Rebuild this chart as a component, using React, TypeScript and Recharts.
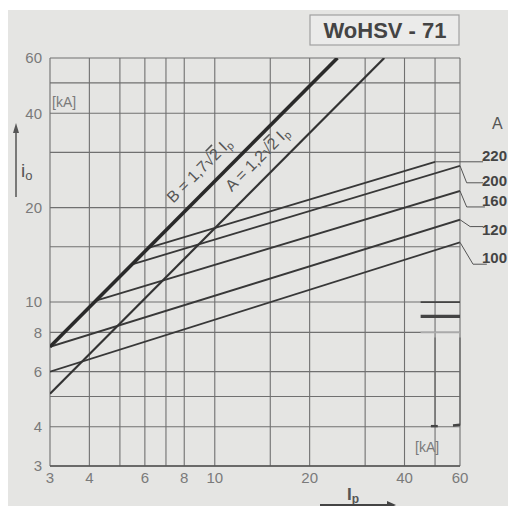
import { LineChart, Line, XAxis, YAxis, CartesianGrid, ReferenceLine } from 'recharts'

// log-log sheet, both axes 3..60 kA
const xTicks = [3, 4, 6, 8, 10, 20, 40, 60]
const yTicks = [3, 4, 6, 8, 10, 20, 40, 60]
const xGrid = [3, 4, 5, 6, 7, 8, 9, 10, 15, 20, 30, 40, 50, 60]
const yGrid = [3, 4, 5, 6, 7, 8, 9, 10, 15, 20, 30, 40, 50, 60]

// peak current lines (straight on log-log), end points
const lineA = [{ ip: 3, io: 5.1 }, { ip: 34.5, io: 60 }]
const lineB = [{ ip: 3, io: 7.2 }, { ip: 24.5, io: 60 }]

// cut-off current of the fuse links, rated current in A
const fuse100 = [{ ip: 3, io: 6.0 }, { ip: 60, io: 15.5 }]
const fuse120 = [{ ip: 3, io: 7.2 }, { ip: 60, io: 18.3 }]
const fuse160 = [{ ip: 4.2, io: 10.1 }, { ip: 60, io: 22.6 }]
const fuse200 = [{ ip: 5.5, io: 13.2 }, { ip: 60, io: 27.2 }]
const fuse220 = [{ ip: 6.2, io: 14.9 }, { ip: 50, io: 28 }]
const fuseSeries = [fuse100, fuse120, fuse160, fuse200, fuse220]

// leader lines from each curve end to its label
const leaders = [
  [{ x: 50, y: 28 }, { x: 71, y: 28 }],
  [{ x: 60, y: 27.2 }, { x: 63, y: 24 }],
  [{ x: 63, y: 24 }, { x: 71, y: 24 }],
  [{ x: 60, y: 22.6 }, { x: 63, y: 20.1 }],
  [{ x: 63, y: 20.1 }, { x: 72, y: 20.1 }],
  [{ x: 60, y: 18.3 }, { x: 64.6, y: 17.4 }],
  [{ x: 64.6, y: 17.4 }, { x: 71, y: 17.4 }],
  [{ x: 60, y: 15.5 }, { x: 66, y: 13.2 }],
  [{ x: 66, y: 13.2 }, { x: 73, y: 13.2 }],
]
const ratingLabels = ['220', '200', '160', '120', '100']
const ratingY = [155, 180, 200, 229, 257]

const ink = '#383838'
const gridInk = '#707070'
const textInk = '#7a7a7a'

export default function App() {
  return (
    <div style={{ position: 'absolute', left: 0, top: 0, width: 508, height: 506, background: '#fff', overflow: 'hidden', fontFamily: '"Liberation Sans", Arial, sans-serif' }}>
      <div style={{ position: 'absolute', left: 8, top: 10, right: 0, bottom: 0, background: '#e5e5e3' }} />
      <div style={{ position: 'absolute', left: 0, top: 0 }}>
        <LineChart width={508} height={506} margin={{ top: 58, right: 48, bottom: 10, left: 10 }}>
          <CartesianGrid stroke={gridInk} strokeWidth={1.1} horizontalValues={yGrid} verticalValues={xGrid} />
          <XAxis
            type="number"
            dataKey="ip"
            scale="log"
            domain={[3, 60]}
            allowDataOverflow
            ticks={xTicks}
            height={30}
            tickLine={false}
            axisLine={{ stroke: '#555', strokeWidth: 1.5 }}
            tick={{ fontSize: 15, fill: textInk }}
            tickSize={4}
          />
          <YAxis
            type="number"
            dataKey="io"
            scale="log"
            domain={[3, 60]}
            allowDataOverflow
            ticks={yTicks}
            width={40}
            tickLine={false}
            axisLine={false}
            tick={{ fontSize: 15, fill: textInk }}
          />
          {fuseSeries.map((d, i) => (
            <Line key={i} data={d} dataKey="io" type="linear" stroke={ink} strokeWidth={1.8} dot={false} isAnimationActive={false} />
          ))}
          <Line data={lineA} dataKey="io" type="linear" stroke="#333" strokeWidth={2.2} dot={false} isAnimationActive={false} />
          <Line data={lineB} dataKey="io" type="linear" stroke="#2a2a2a" strokeWidth={3.6} dot={false} isAnimationActive={false} />

          {/* line style key, lower right */}
          <ReferenceLine segment={[{ x: 45, y: 10 }, { x: 60, y: 10 }]} stroke="#444" strokeWidth={1.8} />
          <ReferenceLine segment={[{ x: 45, y: 9 }, { x: 60, y: 9 }]} stroke="#444" strokeWidth={3.2} />
          <ReferenceLine segment={[{ x: 45, y: 8 }, { x: 60, y: 8 }]} stroke="#aaa" strokeWidth={1.6} />
          <ReferenceLine segment={[{ x: 50, y: 7.7 }, { x: 50, y: 4.05 }]} stroke="#666" strokeWidth={1.2} />
          <ReferenceLine segment={[{ x: 60, y: 7.7 }, { x: 60, y: 4.05 }]} stroke="#666" strokeWidth={1.2} />
          <ReferenceLine segment={[{ x: 48.5, y: 4.02 }, { x: 51, y: 4.02 }]} stroke="#444" strokeWidth={2.4} />
          <ReferenceLine segment={[{ x: 57, y: 4.04 }, { x: 60, y: 4.06 }]} stroke="#444" strokeWidth={2.4} />

          {leaders.map((s, i) => (
            <ReferenceLine key={'l' + i} segment={s} ifOverflow="visible" stroke="#555" strokeWidth={1} />
          ))}
        </LineChart>
      </div>

      <svg width={508} height={506} style={{ position: 'absolute', left: 0, top: 0, pointerEvents: 'none' }}>
        <rect x={310} y={15} width={149} height={30} fill="#ebebea" stroke="#a0a0a0" strokeWidth={1.2} />
        <text x={385} y={38} textAnchor="middle" fontSize={22} fontWeight="bold" fill="#444">WoHSV - 71</text>

        <text x={52} y={107} fontSize={14} fill={textInk}>[kA]</text>
        <text x={415} y={452} fontSize={14} fill={textInk}>[kA]</text>

        <line x1={16} y1={197} x2={16} y2={131} stroke="#555" strokeWidth={1.5} />
        <polygon points="16,123 13,133 19,133" fill="#555" />
        <text x={21} y={177} fontSize={19} fill="#555">i<tspan fontSize={13} dy={3}>o</tspan></text>

        <text x={347} y={500} fontSize={17} fontWeight="bold" fill="#555">I<tspan fontSize={12} dy={3}>p</tspan></text>
        <line x1={320} y1={505} x2={388} y2={505} stroke="#444" strokeWidth={2} />
        <polygon points="396,505 387,501 387,509" fill="#444" />

        <text transform="translate(203,174) rotate(-45)" textAnchor="middle" fontSize={16} fill="#555">
          B = 1,7√<tspan style={{ textDecoration: 'overline' }}>2</tspan> I<tspan fontSize={11} dy={3}>p</tspan>
        </text>
        <text transform="translate(261,163) rotate(-45)" textAnchor="middle" fontSize={16} fill="#555">
          A = 1,2√<tspan style={{ textDecoration: 'overline' }}>2</tspan> I<tspan fontSize={11} dy={3}>p</tspan>
        </text>

        <text x={492} y={129} fontSize={16} fill="#555">A</text>
        {ratingLabels.map((t, i) => (
          <text key={t} x={482} y={ratingY[i] + 6} fontSize={15} fontWeight="bold" fill="#444">{t}</text>
        ))}
      </svg>
    </div>
  )
}
